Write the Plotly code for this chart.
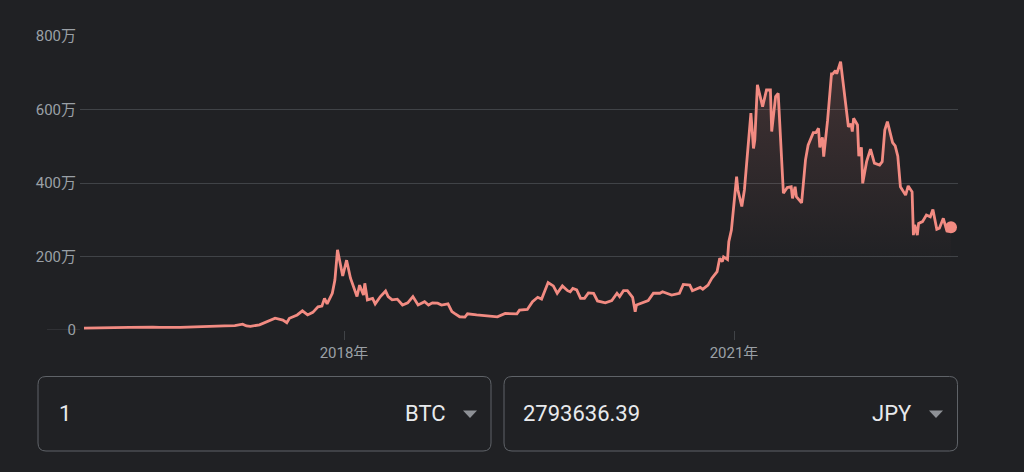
import numpy as np
import pandas as pd
import plotly.graph_objects as go

# ---- data ----
# decimal years
years = [2016.00, 2016.12, 2016.24, 2016.35, 2016.53, 2016.58, 2016.74, 2016.89, 2017.01, 2017.08,
         2017.16, 2017.22, 2017.25, 2017.28, 2017.35, 2017.41, 2017.47, 2017.53, 2017.56, 2017.58,
         2017.64, 2017.68, 2017.72, 2017.76, 2017.80, 2017.83, 2017.85, 2017.87, 2017.91, 2017.93,
         2017.95, 2017.99, 2018.02, 2018.05, 2018.10, 2018.12, 2018.15, 2018.16, 2018.18, 2018.22,
         2018.24, 2018.28, 2018.32, 2018.34, 2018.37, 2018.41, 2018.45, 2018.49, 2018.53, 2018.57,
         2018.62, 2018.65, 2018.68, 2018.72, 2018.75, 2018.80, 2018.83, 2018.85, 2018.89, 2018.93,
         2018.95, 2019.02, 2019.12, 2019.18, 2019.24, 2019.33, 2019.35, 2019.41, 2019.45, 2019.49,
         2019.52, 2019.57, 2019.61, 2019.64, 2019.68, 2019.72, 2019.74, 2019.76, 2019.79, 2019.82,
         2019.85, 2019.88, 2019.92, 2019.95, 2020.01, 2020.06, 2020.10, 2020.12, 2020.15, 2020.18,
         2020.22, 2020.24, 2020.25, 2020.30, 2020.34, 2020.38, 2020.43, 2020.45, 2020.52, 2020.58,
         2020.61, 2020.66, 2020.68, 2020.74, 2020.76, 2020.80, 2020.83, 2020.87, 2020.89, 2020.91,
         2020.92, 2020.95, 2020.96, 2020.98, 2021.02, 2021.03, 2021.06, 2021.08, 2021.10, 2021.13,
         2021.15, 2021.16, 2021.18, 2021.22, 2021.25, 2021.28, 2021.29, 2021.32, 2021.34, 2021.37,
         2021.38, 2021.41, 2021.44, 2021.45, 2021.47, 2021.48, 2021.52, 2021.55, 2021.57, 2021.61,
         2021.63, 2021.65, 2021.66, 2021.68, 2021.69, 2021.72, 2021.75, 2021.76, 2021.78, 2021.79,
         2021.82, 2021.84, 2021.88, 2021.90, 2021.91, 2021.92, 2021.95, 2021.96, 2021.98, 2021.99,
         2022.02, 2022.05, 2022.08, 2022.12, 2022.14, 2022.16, 2022.18, 2022.22, 2022.24, 2022.26,
         2022.28, 2022.32, 2022.34, 2022.37, 2022.38, 2022.39, 2022.41, 2022.42, 2022.45, 2022.48,
         2022.51, 2022.53, 2022.56, 2022.58, 2022.61, 2022.64, 2022.669]

# price in 万円 (10,000 JPY)
values = [5, 5, 5, 7, 8, 7, 7, 8, 10, 11,
          12, 16, 11, 10, 14, 23, 32, 27, 20, 32,
          41, 52, 41, 48, 63, 65, 86, 71, 100, 136,
          218, 147, 190, 141, 91, 122, 95, 127, 82, 86,
          71, 91, 106, 91, 82, 84, 68, 74, 91, 68,
          77, 68, 74, 73, 68, 71, 50, 45, 36, 35,
          44, 41, 38, 36, 45, 44, 54, 56, 77, 89,
          84, 129, 120, 100, 120, 107, 104, 113, 109, 86,
          86, 101, 100, 79, 74, 80, 100, 91, 107, 107,
          89, 50, 68, 74, 80, 100, 100, 104, 95, 100,
          124, 122, 107, 116, 111, 122, 141, 159, 195, 186,
          199, 192, 240, 272, 417, 381, 336, 381, 463, 590,
          494, 517, 667, 608, 653, 653, 540, 635, 644, 417,
          372, 388, 390, 358, 390, 363, 346, 463, 503, 537,
          537, 549, 497, 524, 472, 571, 697, 697, 706, 697,
          730, 671, 553, 561, 540, 576, 558, 473, 497, 399,
          458, 492, 454, 449, 458, 544, 567, 510, 501, 473,
          390, 367, 392, 376, 258, 286, 258, 290, 295, 313,
          308, 328, 274, 277, 304, 267, 279.36]

y_tick_vals = [0, 200, 400, 600, 800]
y_tick_text = ["0", "200万", "400万", "600万", "800万"]
x_tick_years = [2018, 2021]

from_amount = "1"
from_currency = "BTC"
to_amount = "2793636.39"
to_currency = "JPY"

# ---- helpers ----
W, H = 1024, 472
BASE = pd.Timestamp("2018-01-01")


def to_date(y):
    return BASE + pd.to_timedelta((np.asarray(y, dtype=float) - 2018) * 365.25, unit="D")


def px(x):
    return x / W


def py(y):
    return 1 - y / H


dates = to_date(years)

LINE = "#f28b82"
BG = "#202124"
GRID = "#404347"
TICK = "#9aa0a6"
TXT = "#e8eaed"
FONT = "Roboto, 'Noto Sans CJK JP', sans-serif"

fig = go.Figure()
fig.add_trace(go.Scatter(
    x=dates, y=values, mode="lines",
    line=dict(color=LINE, width=2.8),
    fill="tozeroy",
    fillgradient=dict(type="vertical", start=0, stop=max(values),
                      colorscale=[[0, "rgba(242,139,130,0)"],
                                  [0.25, "rgba(242,139,130,0)"],
                                  [0.85, "rgba(242,139,130,0.13)"],
                                  [1, "rgba(242,139,130,0.15)"]]),
    hoverinfo="skip", showlegend=False,
))
fig.add_trace(go.Scatter(
    x=[dates[-1]], y=[values[-1]], mode="markers",
    marker=dict(color=LINE, size=12), hoverinfo="skip", showlegend=False,
    cliponaxis=False,
))

x_range = [to_date(2018 + (80 - 344) / 130), to_date(2018 + (958 - 344) / 130)]

fig.update_layout(
    width=W, height=H, autosize=False,
    margin=dict(l=0, r=0, t=0, b=0, pad=0, autoexpand=False),
    paper_bgcolor=BG, plot_bgcolor=BG,
    font=dict(family=FONT, color=TICK, size=15),
    showlegend=False,
    xaxis=dict(
        domain=[px(80), px(958)], range=x_range, type="date", automargin=False,
        showgrid=False, zeroline=False, showline=False,
        tickmode="array", tickvals=list(to_date(x_tick_years)),
        ticktext=[f"{y}年" for y in x_tick_years],
        ticks="outside", ticklen=9, tickcolor=GRID, tickwidth=1,
        tickfont=dict(size=15, color=TICK),
    ),
    yaxis=dict(
        domain=[py(330), py(36)], range=[0, 800], automargin=False,
        showgrid=True, gridcolor=GRID, gridwidth=1,
        zeroline=False, showline=False,
        tickmode="array", tickvals=y_tick_vals, ticktext=y_tick_text,
        ticks="", ticklabelstandoff=3,
        tickfont=dict(size=15, color=TICK),
    ),
)

shapes = []
# extension of the zero line towards the "0" label
shapes.append(dict(type="line", xref="paper", yref="y", x0=px(47), x1=px(80), y0=0, y1=0,
                   line=dict(color=GRID, width=1), layer="below"))


def rounded_rect(x0, y0, x1, y1, r):
    p = (f"M {px(x0 + r)},{py(y0)} L {px(x1 - r)},{py(y0)} "
         f"Q {px(x1)},{py(y0)} {px(x1)},{py(y0 + r)} "
         f"L {px(x1)},{py(y1 - r)} Q {px(x1)},{py(y1)} {px(x1 - r)},{py(y1)} "
         f"L {px(x0 + r)},{py(y1)} Q {px(x0)},{py(y1)} {px(x0)},{py(y1 - r)} "
         f"L {px(x0)},{py(y0 + r)} Q {px(x0)},{py(y0)} {px(x0 + r)},{py(y0)} Z")
    return dict(type="path", xref="paper", yref="paper", path=p,
                line=dict(color="#5f6368", width=1), fillcolor=BG)


def triangle(cx, cy):
    p = (f"M {px(cx - 7)},{py(cy - 3.5)} L {px(cx + 7)},{py(cy - 3.5)} "
         f"L {px(cx)},{py(cy + 4)} Z")
    return dict(type="path", xref="paper", yref="paper", path=p,
                line=dict(width=0), fillcolor="#8e9196")


shapes.append(rounded_rect(38, 376.5, 491, 451, 8))
shapes.append(rounded_rect(504, 376.5, 957.5, 451, 8))
shapes.append(triangle(470, 414))
shapes.append(triangle(936, 414))
fig.update_layout(shapes=shapes)

ann_font = dict(family=FONT, size=22, color=TXT)
anns = [
    dict(x=px(57), y=py(413), text=from_amount, xanchor="left", yanchor="middle"),
    dict(x=px(448), y=py(413), text=from_currency, xanchor="right", yanchor="middle"),
    dict(x=px(521), y=py(413), text=to_amount, xanchor="left", yanchor="middle"),
    dict(x=px(914), y=py(413), text=to_currency, xanchor="right", yanchor="middle"),
]
for a in anns:
    a.update(xref="paper", yref="paper", showarrow=False, font=ann_font)
fig.update_layout(annotations=anns)

fig.write_html("out.html",
               config={"displayModeBar": False, "responsive": False},
               post_script="document.body.style.margin='0';document.body.style.background='#202124';")
